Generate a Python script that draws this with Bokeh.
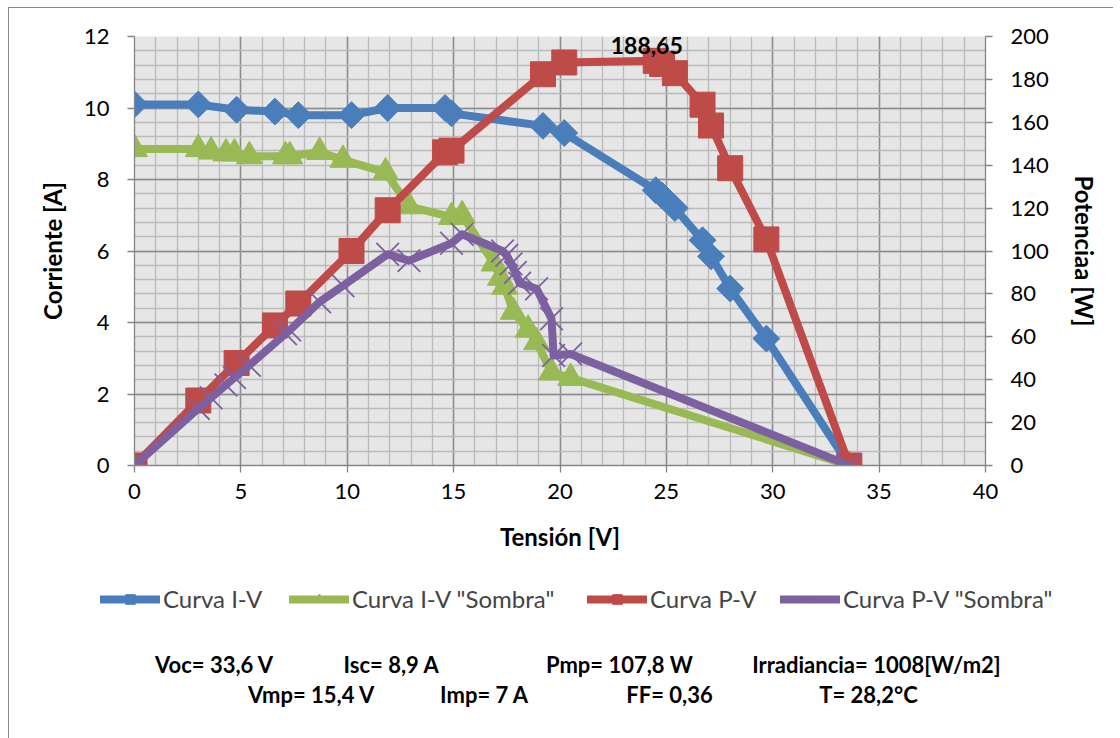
from math import pi
from bokeh.plotting import figure
from bokeh.layouts import column, row
from bokeh.models import (Range1d, LinearAxis, SingleIntervalTicker, Legend,
                          LegendItem, Label)
from bokeh.embed import file_html
from bokeh.resources import INLINE

# ---------------- data ----------------
v_iv = [0, 3.0, 4.8, 6.6, 7.7, 10.2, 11.9, 14.6, 14.9, 19.2, 20.2, 24.5, 24.8,
        25.4, 26.7, 27.1, 28.0, 29.7, 33.6]
i_iv = [10.1, 10.1, 9.95, 9.9, 9.8, 9.8, 10.0, 10.0, 9.85, 9.5, 9.3, 7.7, 7.55,
        7.2, 6.3, 5.85, 4.95, 3.55, 0.0]
p_pv = [0, 30.3, 47.8, 65.3, 75.5, 100.0, 119.0, 146.0, 146.8, 182.4, 187.9,
        188.65, 187.2, 182.9, 168.2, 158.5, 138.6, 105.4, 0]

v_iv_sh = [0, 3.0, 3.6, 4.3, 4.7, 5.4, 7.1, 7.3, 8.7, 9.8, 11.8, 12.9, 14.9,
           15.4, 16.9, 17.2, 17.4, 17.8, 18.5, 18.9, 19.6, 20.5, 33.6]
i_iv_sh = [8.85, 8.85, 8.78, 8.73, 8.73, 8.65, 8.65, 8.65, 8.77, 8.55, 8.2,
           7.25, 6.95, 7.0, 5.65, 5.25, 5.0, 4.3, 3.8, 3.45, 2.6, 2.45, 0.0]

v_pv_sh = [0, 3.0, 3.6, 4.3, 4.7, 5.4, 7.1, 7.3, 8.7, 9.8, 11.9, 12.9, 14.9,
           15.4, 17.3, 17.5, 17.7, 17.9, 18.1, 18.9, 19.6, 19.7, 20.5, 33.6]
p_pv_sh = [0, 26.6, 31.6, 37.5, 41.0, 46.7, 61.4, 63.1, 76.3, 83.8, 98.5,
           95.5, 103.6, 107.8, 100.0, 98.0, 94.0, 90.0, 85.0, 82.4, 68.4,
           51.3, 52.0, 0]

series_names = ["Curva I-V", 'Curva I-V "Sombra"', "Curva P-V",
                'Curva P-V "Sombra"']
max_label = "188,65"
max_v = 24.5
max_p = 188.65

stats_line1 = ["Voc= 33,6 V", "Isc= 8,9 A", "Pmp= 107,8 W",
               "Irradiancia= 1008[W/m2]"]
stats_line2 = ["Vmp= 15,4 V", "Imp= 7 A", "FF= 0,36", "T= 28,2°C"]

x_title = "Tensión [V]"
y_title = "Corriente [A]"
y2_title = "Potenciaa [W]"

# ---------------- styling ----------------
BLUE = "#4A7EBB"
GREEN = "#98B954"
RED = "#BE4B48"
PURPLE = "#7D60A0"
FONT = "Lato"
AXIS_GRAY = "#868686"
BORDER = "1px solid #888888"

LW = 8
styles = {
    "iv": dict(line=dict(line_color=BLUE), mk=dict(marker="square", angle=pi / 4,
               size=19, fill_color=BLUE, line_color=BLUE)),
    "iv_sh": dict(line=dict(line_color=GREEN), mk=dict(marker="triangle",
                  size=26, fill_color=GREEN, line_color=GREEN)),
    "pv": dict(line=dict(line_color=RED), mk=dict(marker="square", size=25,
               fill_color=RED, line_color=RED)),
    "pv_sh": dict(line=dict(line_color=PURPLE), mk=dict(marker="x", size=32,
                  line_color=PURPLE, line_width=1.8)),
}
LINE_COMMON = dict(line_width=LW, line_join="round", line_cap="round")

TOP_H = 556  # figure height of main chart (without 7px margin)

p = figure(frame_width=850, frame_height=428,
           min_border_left=125, min_border_right=129,
           min_border_top=28, min_border_bottom=TOP_H - 28 - 428,
           x_range=Range1d(0, 40), y_range=Range1d(0, 12),
           output_backend="svg", toolbar_location=None,
           background_fill_color="#E6E6E6", border_fill_color="white",
           outline_line_color=None)
p.margin = (7, 0, 0, 8)
p.styles = {"border-left": BORDER, "border-top": BORDER}

p.extra_y_ranges = {"power": Range1d(0, 200)}

xt = SingleIntervalTicker(interval=5, num_minor_ticks=5)
yt = SingleIntervalTicker(interval=2, num_minor_ticks=5)
p.xaxis.ticker = xt
p.yaxis.ticker = yt
p.xgrid.ticker = xt
p.ygrid.ticker = yt

for g in (p.xgrid, p.ygrid):
    g.grid_line_color = "#8C8C8C"
    g.grid_line_width = 1.5
    g.minor_grid_line_color = "#BABABA"
    g.minor_grid_line_width = 1.3

y2 = LinearAxis(y_range_name="power",
                ticker=SingleIntervalTicker(interval=20, num_minor_ticks=0))
p.add_layout(y2, "right")

for ax in (p.xaxis[0], p.yaxis[0], y2):
    ax.axis_line_color = AXIS_GRAY
    ax.axis_line_width = 1.3
    ax.major_tick_line_color = AXIS_GRAY
    ax.major_tick_line_width = 1.3
    ax.major_tick_out = 7
    ax.major_tick_in = 0
    ax.minor_tick_line_color = None
    ax.major_label_text_font = FONT
    ax.major_label_text_font_size = "22px"
    ax.major_label_text_color = "black"
    ax.axis_label_text_font = FONT
    ax.axis_label_text_font_size = "24px"
    ax.axis_label_text_font_style = "bold"
    ax.axis_label_text_color = "black"

p.xaxis.axis_label = x_title
p.xaxis.major_label_standoff = 11
p.xaxis.axis_label_standoff = 20
p.yaxis.axis_label = y_title
p.yaxis.major_label_standoff = 18
p.yaxis.axis_label_standoff = 14
y2.axis_label = y2_title
y2.major_label_standoff = 18
y2.axis_label_standoff = 18

series = [
    ("iv", v_iv, i_iv, "default"),
    ("iv_sh", v_iv_sh, i_iv_sh, "default"),
    ("pv", v_iv, p_pv, "power"),
    ("pv_sh", v_pv_sh, p_pv_sh, "power"),
]
for key, xs, ys, rng in series:
    st = styles[key]
    p.line(xs, ys, y_range_name=rng, **st["line"], **LINE_COMMON)
    p.scatter(xs, ys, y_range_name=rng, **st["mk"])

p.add_layout(Label(x=max_v, y=max_p, y_range_name="power", text=max_label,
                   text_font=FONT, text_font_size="23px", text_color="black",
                   text_font_style="bold", text_align="center",
                   text_baseline="middle", x_offset=-9, y_offset=15))

# ---------------- lower panel: legend + stats ----------------
# data units in this panel equal page pixels.
BOT_H = 738 - 7 - TOP_H
FRAME_LEFT = 8
q = figure(frame_width=1120 - FRAME_LEFT, frame_height=BOT_H,
           min_border_left=0, min_border_right=0,
           min_border_top=0, min_border_bottom=0,
           x_range=Range1d(FRAME_LEFT, 1120), y_range=Range1d(738, 738 - BOT_H),
           x_axis_location=None, y_axis_location=None,
           output_backend="svg", toolbar_location=None,
           outline_line_color=None, background_fill_color="white",
           border_fill_color="white")
q.grid.visible = False

leg_px = [99, 288, 586, 779]
for (key, _, _, _), name, lx in zip(series, series_names, leg_px):
    st = styles[key]
    # off-screen proxy renderers carry the legend glyph styles
    r1 = q.line(x=[-9999, -9998], y=[-9999, -9999], **st["line"],
                **LINE_COMMON)
    r2 = q.scatter(x=[-9999], y=[-9999], **st["mk"])
    lg = Legend(items=[LegendItem(label=name, renderers=[r1, r2])],
                location=(lx - FRAME_LEFT, 738 - 612),
                orientation="horizontal",
                padding=0, margin=0, glyph_width=60, glyph_height=24,
                label_standoff=3, label_text_font=FONT,
                label_text_font_size="24px", label_height=24,
                border_line_color=None, background_fill_alpha=0)
    q.add_layout(lg, "center")

for txt, cx in zip(stats_line1, [213, 390, 618, 875]):
    q.add_layout(Label(x=cx, y=663, text=txt, text_font=FONT,
                       text_font_size="22px", text_font_style="bold",
                       text_color="black",
                       text_baseline="middle", text_align="center"))
for txt, cx in zip(stats_line2, [310, 483, 668, 867]):
    q.add_layout(Label(x=cx, y=693, text=txt, text_font=FONT,
                       text_font_size="22px", text_font_style="bold",
                       text_color="black",
                       text_baseline="middle", text_align="center"))

bottom = row(q)
bottom.margin = (0, 0, 0, 8)
bottom.styles = {"border-left": BORDER}
layout = column(p, bottom, spacing=0)
open("out.html", "w").write(file_html(layout, INLINE))
